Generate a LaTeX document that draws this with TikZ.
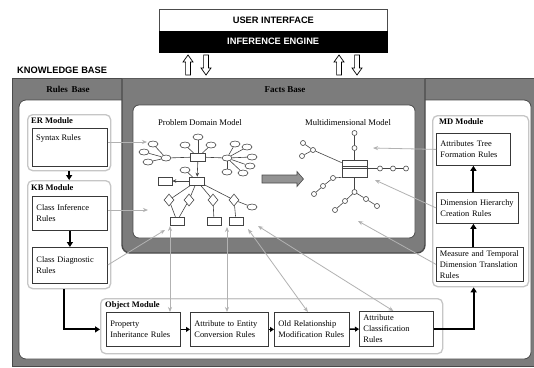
\documentclass[tikz,border=0pt]{standalone}
\usepackage{fontspec}
\setmainfont{Liberation Serif}
\newfontfamily\headfont{Liberation Sans}
\usetikzlibrary{arrows.meta,shapes.geometric}
\definecolor{framegray}{HTML}{7C7C7C}
\definecolor{framedark}{HTML}{4A4A4A}
\definecolor{linkgray}{HTML}{B2B2B2}
\definecolor{modgray}{HTML}{C6C6C6}
\definecolor{boxline}{HTML}{383838}
\definecolor{ergray}{HTML}{444444}
\begin{document}
\begin{tikzpicture}[x=1pt,y=-1pt,
  title/.style={font=\headfont\bfseries\fontsize{9.3}{10}\selectfont, inner sep=0pt},
  baselabel/.style={font=\bfseries\fontsize{9}{10}\selectfont, inner sep=0pt},
  rulebox/.style={draw=boxline, line width=.8pt, fill=white, anchor=north west, align=left,
    inner xsep=4pt, inner ysep=1pt, font=\fontsize{8.4}{11}\selectfont},
  module/.style={draw=modgray, line width=1.3pt, fill=white, rounded corners=5pt,
    anchor=north west, inner sep=0pt},
  modlabel/.style={anchor=north west, font=\bfseries\fontsize{8.5}{10}\selectfont, inner sep=0pt},
  flow/.style={line width=2pt, -{Triangle[length=5pt,width=6pt]}},
  shortflow/.style={line width=1.6pt, -{Triangle[length=4pt,width=5pt]}},
  link/.style={draw=linkgray, line width=.8pt, -{Stealth[length=5pt,width=4pt]}},
  dlink/.style={draw=linkgray, line width=.8pt, {Stealth[length=5pt,width=4pt]}-{Stealth[length=5pt,width=4pt]}},
  ent/.style={draw=ergray, line width=.6pt, fill=white, minimum width=15pt, minimum height=8pt, inner sep=0pt},
  attr/.style={draw=ergray, line width=.6pt, fill=white, ellipse, minimum width=10pt, minimum height=6pt, inner sep=0pt},
  rel/.style={draw=ergray, line width=.6pt, fill=white, diamond, minimum width=10pt, minimum height=12pt, inner sep=0pt},
  lvl/.style={draw=ergray, line width=.6pt, fill=white, circle, minimum size=5pt, inner sep=0pt},
  erline/.style={draw=ergray, line width=.6pt},
  uparrow/.pic={\draw[line width=.7pt, fill=white] (0,0) -- (5,7) -- (2.4,7) -- (2.4,20) -- (-2.4,20) -- (-2.4,7) -- (-5,7) -- cycle;},
  downarrow/.pic={\draw[line width=.7pt, fill=white] (0,20) -- (5,13) -- (2.4,13) -- (2.4,0) -- (-2.4,0) -- (-2.4,13) -- (-5,13) -- cycle;},
]
\useasboundingbox (0,0) rectangle (534,367);
\fill[white] (0,0) rectangle (534,367);

% ---------- user interface and inference engine ----------
\node[draw=black!70, line width=.7pt, fill=white, minimum width=228pt, minimum height=22pt, anchor=north west,
  title] (ui) at (159,9) {USER INTERFACE};
\node[draw=black, fill=black, text=white, minimum width=228pt, minimum height=21pt, anchor=north west,
  title] (ie) at (159,31) {INFERENCE ENGINE};
\pic at (188,55) {uparrow};
\pic at (206,55) {downarrow};
\pic at (339,55) {uparrow};
\pic at (357,55) {downarrow};

% ---------- knowledge base frame ----------
\node[title, anchor=west] (kbtitle) at (17,70) {KNOWLEDGE BASE};
\draw[fill=framegray, draw=framedark, line width=1pt] (12,78) rectangle (534,366);
\draw[fill=white, draw=framedark, line width=.8pt, rounded corners=7pt] (19,100) rectangle (531,359);
% facts base panel
\filldraw[fill=framegray, draw=framedark, line width=1.4pt] (122,78.5) [rounded corners=8pt] -- (122,253) -- (425,253) [sharp corners] -- (425,78.5);
\draw[fill=white, draw=framedark, line width=.8pt, rounded corners=6pt] (133,105) rectangle (415,238);
\node[baselabel] (rbl) at (68,89) {Rules\, Base};
\node[baselabel] (fbl) at (285,90) {Facts Base};

% ---------- problem domain model ----------
\node[font=\fontsize{8.6}{10}\selectfont, inner sep=0pt] (pdm) at (200,123) {Problem Domain Model};
\node[ent] (eA) at (198,157) {};
\node[attr] (a1) at (185,145) {};
\node[attr] (a2) at (198,137) {};
\node[attr] (a3) at (211,145) {};
\node[attr] (hl) at (166,158) {};
\node[attr] (l1) at (153,144) {};
\node[attr] (l2) at (144,152) {};
\node[attr] (l3) at (148,162) {};
\node[attr] (hr) at (227,158) {};
\node[attr] (m1) at (235,144) {};
\node[attr] (m2) at (247,147) {};
\node[attr] (m3) at (252,157) {};
\node[attr] (m4) at (250,166) {};
\node[attr] (m5) at (243,173) {};
\node[attr] (m6) at (227,172) {};
\node[ent] (eB) at (197,181) {};
\node[attr] (b1) at (185,170) {};
\node[ent, minimum width=14pt] (eC) at (165,181) {};
\node[rel] (d1) at (169,200) {};
\node[rel] (d2) at (189,200) {};
\node[rel] (d3) at (213,200) {};
\node[rel] (d4) at (234,200) {};
\node[ent, minimum width=14pt] (r1) at (177,221) {};
\node[ent, minimum width=14pt] (r2) at (214,221) {};
\node[ent, minimum width=14pt] (r3) at (236,221) {};
\node[attr] (e1) at (252,207) {};
\foreach \n in {a1,a2,a3,hl,hr} \draw[erline] (eA) -- (\n);
\foreach \n in {l1,l2,l3} \draw[erline] (hl) -- (\n);
\foreach \n in {m1,m2,m3,m4,m5,m6} \draw[erline] (hr) -- (\n);
\draw[erline, -{Stealth[length=4pt,width=3.5pt]}] (eA) -- (eB);
\draw[erline] (eB) -- (b1);
\draw[erline, -{Stealth[length=4pt,width=3.5pt]}] (eB) -- (eC);
\foreach \n in {d1,d2,d3,d4} \draw[erline] (eB) -- (\n);
\draw[erline] (d1) -- (r1);
\draw[erline] (d2) -- (r1);
\draw[erline] (d3) -- (r2);
\draw[erline] (d4) -- (r3);
\draw[erline] (d4) -- (e1);

% transformation arrow
\draw[fill=gray!85, draw=framedark, line width=.6pt] (262,175) -- (297,175) -- (297,171.5) -- (303.5,179) -- (297,186.5) -- (297,183) -- (262,183) -- cycle;

% ---------- multidimensional model ----------
\node[font=\fontsize{8.6}{10}\selectfont, inner sep=0pt] (mdm) at (348,123) {Multidimensional Model};
\node[draw=ergray, line width=.7pt, fill=white, minimum width=25pt, minimum height=17pt, inner sep=0pt] (fact) at (354.5,168.5) {};
\draw[erline] ([yshift=-6.5pt]fact.north west) -- ([yshift=-6.5pt]fact.north east);
\draw[erline] ([yshift=-8.5pt]fact.north west) -- ([yshift=-8.5pt]fact.north east);
\node[lvl] (t1) at (354.5,148) {};
\node[lvl] (t2) at (354.5,133) {};
\node[lvl] (u0) at (313,150) {};
\node[lvl] (u1) at (303,143) {};
\node[lvl] (u2) at (302,156) {};
\node[lvl] (c1) at (380,168.5) {};
\node[lvl] (c2) at (393,168.5) {};
\node[lvl] (c3) at (406,168.5) {};
\node[lvl] (k1) at (333,178) {};
\node[lvl] (k2) at (323,186) {};
\node[lvl] (k3) at (314,194) {};
\node[lvl] (p0) at (354.5,192) {};
\node[lvl] (p1) at (345,201) {};
\node[lvl] (p2) at (335,210) {};
\node[lvl] (p3) at (366,199) {};
\node[lvl] (p4) at (377,206) {};
\draw[erline] (fact) -- (t1) -- (t2);
\draw[erline] ([yshift=-3pt]fact.north west) -- (u0);
\draw[erline] (u0) -- (u1);
\draw[erline] (u0) -- (u2);
\draw[erline] (fact) -- (c1) -- (c2) -- (c3);
\draw[erline] (fact.south west) -- (k1) -- (k2) -- (k3);
\draw[erline] (fact) -- (p0) -- (p1) -- (p2);
\draw[erline] (p0) -- (p3) -- (p4);

% ---------- rules base modules ----------
\node[module, minimum width=83pt, minimum height=56pt] (er) at (27,114) {};
\node[modlabel] at (31,117) {ER Module};
\node[rulebox, minimum width=75pt, minimum height=38pt] (syn) at (32,128) {};
\node[anchor=north west, inner sep=0pt, font=\fontsize{8.4}{11}\selectfont] at (36,134) {Syntax Rules};

\node[module, minimum width=83pt, minimum height=108pt] (kb) at (27,180) {};
\node[modlabel] at (31,184) {KB Module};
\node[rulebox, minimum width=75pt, minimum height=34pt, text width=67pt] (cinf) at (32,196) {Class Inference\\Rules};
\node[rulebox, minimum width=75pt, minimum height=36pt, text width=67pt] (cdia) at (32,247) {Class Diagnostic\\Rules};

\node[module, minimum width=342pt, minimum height=55pt] (obj) at (100,298) {};
\node[modlabel] at (105,301) {Object Module};
\node[rulebox, minimum width=74pt, minimum height=34pt, text width=66pt] (prop) at (106,312) {Property\\Inheritance Rules};
\node[rulebox, minimum width=78pt, minimum height=34pt, text width=70pt] (aent) at (190,312) {Attribute to Entity\\Conversion Rules};
\node[rulebox, minimum width=75pt, minimum height=34pt, text width=67pt] (orel) at (274,312) {Old Relationship\\Modification Rules};
\node[rulebox, minimum width=74pt, minimum height=35pt, text width=66pt] (acls) at (359,311) {Attribute\\Classification\\Rules};

\node[module, minimum width=96pt, minimum height=171pt] (md) at (432,115) {};
\node[modlabel] at (439,118) {MD Module};
\node[rulebox, minimum width=74pt, minimum height=32pt, text width=66pt] (atree) at (436,133) {Attributes Tree\\Formation Rules};
\node[rulebox, minimum width=82pt, minimum height=31pt, text width=74pt] (dhier) at (436,192) {Dimension Hierarchy\\Creation Rules};
\node[rulebox, minimum width=87pt, minimum height=34pt, text width=80pt, inner xsep=3.5pt] (meas) at (436,247) {Measure and Temporal\\Dimension Translation\\Rules};

% ---------- process flow ----------
\draw[flow] (er.south) -- (kb.north);
\draw[flow] (cinf.south) -- (cdia.north);
\draw[flow] ([xshift=-5pt]kb.south) |- (obj.west |- prop.west);
\draw[shortflow] (prop) -- (aent);
\draw[shortflow] (aent) -- (orel);
\draw[shortflow] (orel) -- (acls);
\draw[flow] (acls.east) -| ([xshift=-7pt]md.south);
\draw[flow] (meas.north -| atree.south) -- (dhier.south -| atree.south);
\draw[flow] (dhier.north -| atree.south) -- (atree.south);

% ---------- rules acting on the facts ----------
\coordinate (synT) at (147,142);
\coordinate (cinfT) at (148,210);
\coordinate (cdiaS) at (107,265);
\coordinate (cdiaT) at (165,230);
\draw[link] (syn.east |- synT) -- (synT);
\draw[link] (cinf.east |- cinfT) -- (cinfT);
\draw[link] (cdia.east |- cdiaS) -- (cdiaT);
\coordinate (propT) at (170,226);
\coordinate (aentT) at (227,227);
\coordinate (orelT) at (248,229);
\coordinate (aclsT) at (258,226);
\draw[dlink] (propT |- prop.north) -- (propT);
\draw[dlink] (aentT |- aent.north) -- (aentT);
\draw[dlink] ([xshift=-4pt]orel.north) -- (orelT);
\draw[dlink] ([xshift=-3pt]acls.north) -- (aclsT);
\coordinate (atreeT) at (373,148);
\coordinate (dhierT) at (375,180);
\coordinate (measT) at (358,221);
\draw[link] (atree.west) -- (atreeT);
\draw[link] (dhier.west) -- (dhierT);
\draw[link] (meas.west) -- (measT);
\end{tikzpicture}
\end{document}
